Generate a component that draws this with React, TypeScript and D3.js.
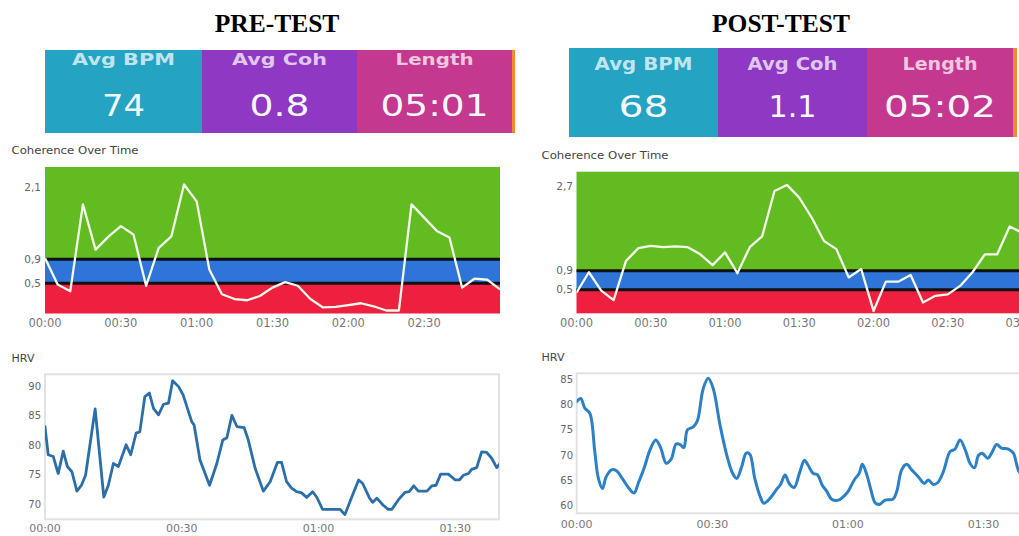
import React from 'react';
import * as d3 from 'd3';

// ---------- data ----------
const panelTitles = ['PRE-TEST', 'POST-TEST'];
const metricLabels = ['Avg BPM', 'Avg Coh', 'Length'];
const preMetrics = ['74', '0.8', '05:01'];
const postMetrics = ['68', '1.1', '05:02'];

const preCohSeconds = [0, 5, 10, 15, 20, 25, 30, 35, 40, 45, 50, 55, 60, 65, 70, 75, 80, 85, 90, 95, 100, 105, 110, 115, 120, 125, 130, 135, 140, 145, 150, 155, 160, 165, 170, 175, 180];
const preCohValues = [0.92, 0.48, 0.37, 1.81, 1.06, 1.27, 1.45, 1.31, 0.46, 1.09, 1.28, 2.14, 1.86, 0.73, 0.32, 0.24, 0.22, 0.29, 0.43, 0.52, 0.46, 0.24, 0.1, 0.11, 0.14, 0.17, 0.12, 0.05, 0.05, 1.81, 1.59, 1.37, 1.26, 0.43, 0.58, 0.56, 0.4];

const postCohSeconds = [0, 5, 10, 15, 20, 25, 30, 35, 40, 45, 50, 55, 60, 65, 70, 75, 80, 85, 90, 95, 100, 105, 110, 115, 120, 125, 130, 135, 140, 145, 150, 155, 160, 165, 170, 175, 180, 185];
const postCohValues = [0.44, 0.87, 0.48, 0.28, 1.11, 1.38, 1.43, 1.4, 1.42, 1.4, 1.25, 1.02, 1.29, 0.85, 1.4, 1.63, 2.59, 2.72, 2.45, 2.03, 1.53, 1.36, 0.76, 0.94, 0.05, 0.67, 0.67, 0.81, 0.23, 0.37, 0.4, 0.58, 0.87, 1.25, 1.25, 1.84, 1.71, 1.6];

const preCohTicks = [2.1, 0.9, 0.5];
const postCohTicks = [2.7, 0.9, 0.5];
const cohZoneLimits = [0.9, 0.5];
const preCohTimeTicks = [0, 30, 60, 90, 120, 150];
const postCohTimeTicks = [0, 30, 60, 90, 120, 150, 180];

const preHrvSeconds = [0, 0.7, 1.8, 2.9, 4.0, 4.9, 5.9, 7.0, 8.0, 8.9, 11.0, 12.9, 13.9, 15.0, 16.1, 17.8, 18.8, 20.0, 20.8, 21.9, 22.9, 23.8, 24.9, 26.0, 27.1, 28.0, 29.3, 30.3, 32.2, 32.7, 34.0, 36.1, 37.7, 39.0, 39.9, 41.0, 42.1, 43.7, 44.6, 46.1, 47.9, 49.4, 51.0, 51.9, 53.0, 54.1, 55.2, 56.3, 57.4, 58.7, 59.6, 60.9, 64.7, 65.8, 67.3, 68.8, 69.7, 71.2, 71.9, 72.8, 74.2, 75.3, 76.1, 77.5, 79.0, 79.9, 80.9, 81.9, 83.8, 84.9, 85.8, 86.8, 88.5, 90.0, 90.9, 91.8, 92.9, 93.6, 94.7, 95.8, 96.9, 98.0, 99.1, 99.8];
const preHrvValues = [83.2, 78.4, 78.1, 75.2, 79.0, 76.4, 75.5, 72.2, 73.2, 74.9, 86.2, 71.2, 73.2, 76.9, 76.4, 80.1, 78.4, 82.1, 82.3, 88.3, 88.9, 86.3, 85.2, 87.0, 87.2, 91.0, 90.0, 88.6, 84.0, 83.5, 77.5, 73.2, 76.9, 80.9, 81.3, 85.1, 83.2, 83.0, 80.9, 76.1, 72.2, 73.8, 77.1, 77.1, 73.8, 72.7, 72.1, 71.9, 71.1, 72.1, 71.2, 69.1, 69.1, 68.2, 71.2, 74.1, 73.5, 71.0, 70.3, 71.0, 69.8, 69.1, 69.1, 70.7, 72.0, 72.1, 73.1, 72.2, 72.2, 73.1, 73.2, 75.1, 75.1, 74.1, 74.1, 74.9, 75.2, 75.9, 76.2, 78.9, 78.8, 77.8, 76.2, 76.9];

const postHrvSeconds = [0, 0.9, 1.8, 2.9, 4.0, 4.8, 5.7, 6.5, 7.7, 8.8, 10.3, 11.6, 12.7, 13.6, 14.9, 16.2, 17.5, 18.6, 19.8, 20.9, 22.0, 22.9, 23.7, 24.5, 25.8, 26.7, 28.0, 29.1, 30.2, 31.7, 33.2, 34.5, 35.4, 36.5, 37.5, 38.3, 39.4, 40.6, 41.4, 42.8, 44.1, 45.1, 46.1, 47.0, 48.1, 49.3, 50.4, 51.2, 52.3, 53.3, 54.3, 55.3, 56.4, 57.9, 59.0, 60.1, 61.4, 62.5, 63.2, 64.2, 65.1, 66.1, 67.1, 68.2, 70.0, 70.8, 71.9, 73.0, 74.1, 75.6, 76.9, 77.8, 78.9, 79.9, 81.1, 82.6, 83.7, 84.8, 86.1, 87.0, 88.0, 88.9, 89.7, 90.9, 91.8, 92.9, 94.0, 95.5, 96.6, 97.9, 100];
const postHrvValues = [80.6, 81.2, 79.3, 78.3, 70.7, 65.4, 63.4, 65.7, 67.1, 66.9, 65.1, 63.4, 62.5, 64.4, 67.4, 71.0, 73.0, 71.4, 68.4, 69.2, 72.2, 72.1, 71.5, 75.0, 75.6, 76.8, 83.2, 85.2, 83.2, 76.0, 70.0, 66.4, 65.4, 67.7, 70.4, 70.2, 65.4, 61.8, 60.5, 61.5, 63.1, 64.2, 66.1, 64.4, 63.6, 66.5, 69.0, 68.0, 66.4, 66.1, 64.1, 62.9, 61.3, 61.1, 61.8, 62.9, 65.1, 66.4, 68.2, 66.1, 63.1, 60.5, 60.3, 61.1, 61.3, 62.8, 67.1, 68.2, 67.1, 65.7, 64.4, 65.1, 64.2, 64.6, 66.7, 70.7, 71.2, 73.0, 70.7, 68.4, 67.5, 70.0, 70.4, 69.4, 70.4, 72.1, 71.4, 71.2, 70.4, 66.7, 65.0];

const preHrvTicks = [70, 75, 80, 85, 90];
const postHrvTicks = [60, 65, 70, 75, 80, 85];
const hrvTimeTicks = [0, 30, 60, 90];

// ---------- styles / layout ----------
const SANS = 'DejaVu Sans, Verdana, sans-serif';
const boxColors = ['#25a3c3', '#8e38c3', '#c5388f', '#ef8a33'];
const zoneColors = { high: '#63bb22', mid: '#2f74d8', low: '#ef1f40' };

const fmtTime = (s: number) =>
  `${String(Math.floor(s / 60)).padStart(2, '0')}:${String(s % 60).padStart(2, '0')}`;
const fmtComma = (v: number) => d3.format('.1f')(v).replace('.', ',');

const layouts = [
  {
    title: { x: 277, y: 32 },
    box: { edges: [45, 202, 357, 512, 515], y0: 50, y1: 133, labelY: 64.5, labelSize: 15, labelW: [103, 95, 78], valueY: 115.5, valueW: [43, 60, 108] },
    coh: { title: [11.5, 153.5], xDomain: [0, 180], xRange: [45, 500], yDomain: [0, 2.43], yRange: [313.5, 167], labelX: 41, tickY: 327 },
    hrv: { title: [11.5, 361.5], xDomain: [0, 99.6], xRange: [45, 499], yDomain: [67.4, 92.1], yRange: [519.3, 374.3], labelX: 41, tickY: 532, color: '#2c6ea7', width: 2.8, smooth: false },
  },
  {
    title: { x: 781, y: 32 },
    box: { edges: [569, 718, 867, 1013, 1017], y0: 48, y1: 137, labelY: 69.5, labelSize: 17, labelW: [98, 90, 75], valueY: 117, valueW: [50, 48, 112] },
    coh: { title: [541.5, 159], xDomain: [0, 180], xRange: [576.5, 1022], yDomain: [0, 3.0], yRange: [313.3, 171.7], labelX: 573, tickY: 327 },
    hrv: { title: [541.5, 360.5], xDomain: [0, 100], xRange: [576.7, 1028.7], yDomain: [58.5, 86.2], yRange: [513.3, 373.3], labelX: 573, tickY: 528, color: '#2b80c6', width: 3, smooth: true },
  },
];

const panels = [
  { title: panelTitles[0], metrics: preMetrics, cohT: preCohSeconds, cohV: preCohValues, cohTicks: preCohTicks, cohTime: preCohTimeTicks, hrvT: preHrvSeconds, hrvV: preHrvValues, hrvTicks: preHrvTicks },
  { title: panelTitles[1], metrics: postMetrics, cohT: postCohSeconds, cohV: postCohValues, cohTicks: postCohTicks, cohTime: postCohTimeTicks, hrvT: postHrvSeconds, hrvV: postHrvValues, hrvTicks: postHrvTicks },
];

function Header({ p, L }: any) {
  const b = L.box;
  return (
    <g>
      {b.edges.slice(0, -1).map((x0: number, i: number) => (
        <rect key={i} x={x0} y={b.y0} width={b.edges[i + 1] - x0} height={b.y1 - b.y0} fill={boxColors[i]} />
      ))}
      {metricLabels.map((lab, i) => {
        const cx = (b.edges[i] + b.edges[i + 1]) / 2;
        return (
          <g key={lab}>
            <text x={cx} y={b.labelY} textAnchor="middle" fontFamily={SANS} fontWeight="bold" fontSize={b.labelSize} fill="rgba(255,255,255,0.72)" textLength={b.labelW[i]} lengthAdjust="spacingAndGlyphs">{lab}</text>
            <text x={cx} y={b.valueY} textAnchor="middle" fontFamily={SANS} fontSize={30} fill="#f3f7fa" textLength={b.valueW[i]} lengthAdjust="spacingAndGlyphs">{p.metrics[i]}</text>
          </g>
        );
      })}
    </g>
  );
}

function Coherence({ p, L, id }: any) {
  const c = L.coh;
  const x = d3.scaleLinear().domain(c.xDomain).range(c.xRange);
  const y = d3.scaleLinear().domain(c.yDomain).range(c.yRange);
  const [hi, lo] = cohZoneLimits;
  const xl = c.xRange[0];
  const plotW = id === 'pre' ? c.xRange[1] - xl : 1040 - xl;
  const pts = p.cohT.map((t: number, i: number) => [t, p.cohV[i]]);
  const line = d3.line<number[]>().x(d => x(d[0])).y(d => y(d[1]));
  return (
    <g>
      <text x={c.title[0]} y={c.title[1]} fontFamily={SANS} fontSize={10} fill="#444" textLength={127} lengthAdjust="spacingAndGlyphs">Coherence Over Time</text>
      <clipPath id={`clip-coh-${id}`}>
        <rect x={xl} y={y(c.yDomain[1])} width={plotW} height={y(0) - y(c.yDomain[1])} />
      </clipPath>
      <rect x={xl} y={y(c.yDomain[1])} width={plotW} height={y(hi) - y(c.yDomain[1])} fill={zoneColors.high} />
      <rect x={xl} y={y(hi)} width={plotW} height={y(lo) - y(hi)} fill={zoneColors.mid} />
      <rect x={xl} y={y(lo)} width={plotW} height={y(0) - y(lo)} fill={zoneColors.low} />
      {cohZoneLimits.map(v => (
        <line key={v} x1={xl} x2={xl + plotW} y1={y(v)} y2={y(v)} stroke="#111" strokeWidth={3} />
      ))}
      <path d={line(pts) || ''} fill="none" stroke="#f3fbea" strokeWidth={2.3} strokeLinejoin="round" clipPath={`url(#clip-coh-${id})`} />
      {p.cohTicks.map((v: number) => (
        <text key={v} x={c.labelX} y={y(v)} dy="0.35em" textAnchor="end" fontFamily={SANS} fontSize={10.5} fill="#666">{fmtComma(v)}</text>
      ))}
      {p.cohTime.map((t: number) => (
        <text key={t} x={x(t)} y={c.tickY} textAnchor="middle" fontFamily={SANS} fontSize={11.5} fill="#777">{fmtTime(t)}</text>
      ))}
    </g>
  );
}

function Hrv({ p, L, id }: any) {
  const h = L.hrv;
  const x = d3.scaleLinear().domain(h.xDomain).range(h.xRange);
  const y = d3.scaleLinear().domain(h.yDomain).range(h.yRange);
  const xl = h.xRange[0];
  const plotW = id === 'pre' ? h.xRange[1] - xl : 1045 - xl;
  const pts = p.hrvT.map((t: number, i: number) => [t, p.hrvV[i]]);
  const line = d3.line<number[]>().x(d => x(d[0])).y(d => y(d[1])).curve(h.smooth ? d3.curveCatmullRom.alpha(0.5) : d3.curveLinear);
  const top = y(h.yDomain[1]);
  const bot = y(h.yDomain[0]);
  return (
    <g>
      <text x={h.title[0]} y={h.title[1]} fontFamily={SANS} fontSize={10.5} fill="#444" textLength={23} lengthAdjust="spacingAndGlyphs">HRV</text>
      <clipPath id={`clip-hrv-${id}`}>
        <rect x={xl} y={top} width={plotW} height={bot - top} />
      </clipPath>
      <rect x={xl} y={top} width={plotW} height={bot - top} fill="#fff" stroke="#e2e2e2" strokeWidth={2} />
      <path d={line(pts) || ''} fill="none" stroke={h.color} strokeWidth={h.width} strokeLinejoin="round" strokeLinecap="round" clipPath={`url(#clip-hrv-${id})`} />
      {p.hrvTicks.map((v: number) => (
        <text key={v} x={h.labelX} y={y(v)} dy="0.35em" textAnchor="end" fontFamily={SANS} fontSize={10} fill="#666">{v}</text>
      ))}
      {hrvTimeTicks.map((t: number) => (
        <text key={t} x={x(t)} y={h.tickY} textAnchor="middle" fontFamily={SANS} fontSize={11} fill="#777">{fmtTime(t)}</text>
      ))}
    </g>
  );
}

export default function App() {
  return (
    <svg width={1019} height={536} style={{ position: 'absolute', left: 0, top: 0, display: 'block', background: '#fff' }}>
      {panels.map((p, i) => {
        const L = layouts[i];
        const id = i === 0 ? 'pre' : 'post';
        return (
          <g key={id}>
            <text x={L.title.x} y={L.title.y} textAnchor="middle" fontFamily="Liberation Serif, Times New Roman, serif" fontWeight="bold" fontSize={25.5} fill="#000">{p.title}</text>
            <Header p={p} L={L} />
            <Coherence p={p} L={L} id={id} />
            <Hrv p={p} L={L} id={id} />
          </g>
        );
      })}
    </svg>
  );
}
